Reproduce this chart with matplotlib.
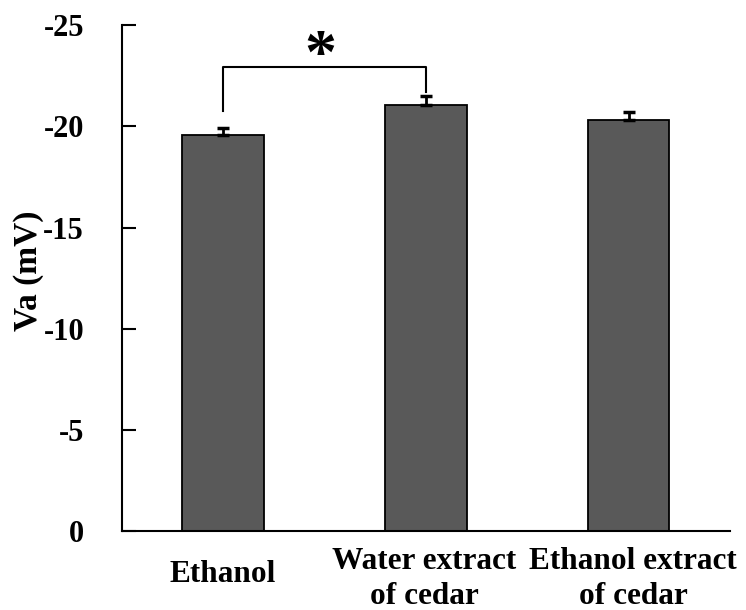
import matplotlib.pyplot as plt
import numpy as np

groups = ["Ethanol", "Water extract\nof cedar", "Ethanol extract\nof cedar"]
va_mean = [-19.55, -21.05, -20.33]
va_err = [0.38, 0.43, 0.37]

# significance bracket between Ethanol and Water extract
bracket_ends = [-20.75, -21.7]
bracket_top = -22.93
star_y = -23.35

plt.rcParams['font.family'] = ['Liberation Serif', 'DejaVu Serif']
plt.rcParams['font.weight'] = 'bold'

fig = plt.figure(figsize=(7.46, 6.10), dpi=100)
ax = fig.add_axes([0.163, 0.129, 0.816, 0.830])

x = np.arange(len(groups))
ax.bar(x, va_mean, width=0.4, color='#595959', edgecolor='black', linewidth=1.3, zorder=2)
ax.errorbar(x, va_mean, yerr=[va_err, np.zeros(len(va_err))], fmt='none',
            ecolor='black', elinewidth=2, capsize=4.5, capthick=2.5, zorder=3)

ax.plot([x[0], x[0], x[1], x[1]],
        [bracket_ends[0], bracket_top, bracket_top, bracket_ends[1]],
        color='black', linewidth=1.5, clip_on=False)
ax.text(0.48, star_y, '*', ha='center', va='center',
        fontsize=46, fontweight='bold')

ax.set_xlim(-0.5, 2.5)
ax.set_ylim(0, -25)
ax.set_yticks([0, -5, -10, -15, -20, -25])
ax.set_yticklabels(['0', '-5', '-10', '-15', '-20', '-25'])
ax.tick_params(axis='y', direction='in', length=10, width=1.5, pad=27, labelsize=22)

# category labels under the axis: one-line label sits between the two lines
ax.set_xticks(x)
ax.set_xticklabels([])
ax.tick_params(axis='x', length=0)
label_shift = [0, -2, 4]
for xi, name, sh in zip(x, groups, label_shift):
    lines = name.split('\n')
    offsets = [-51] if len(lines) == 1 else [-38, -73]
    for line, dy in zip(lines, offsets):
        ax.annotate(line, xy=(xi, 0), xycoords=('data', 'axes fraction'),
                    xytext=(sh, dy), textcoords='offset pixels',
                    ha='center', va='baseline', fontsize=22.5, fontweight='bold')

ax.set_ylabel('Va (mV)', fontsize=24, fontweight='bold')
ax.yaxis.set_label_coords(-0.127, 0.515)

for side in ['top', 'right']:
    ax.spines[side].set_visible(False)
for side in ['left', 'bottom']:
    ax.spines[side].set_linewidth(1.5)

fig.savefig('out.png', dpi=100)
